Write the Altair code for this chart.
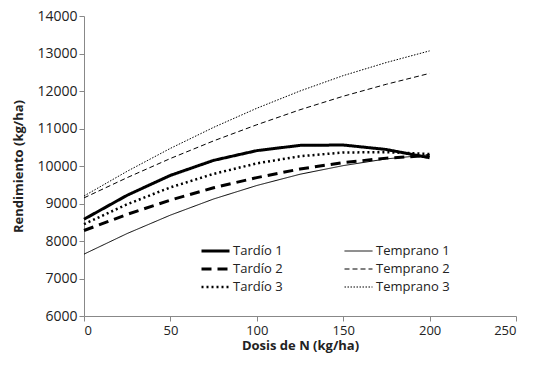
import altair as alt
import pandas as pd

dosis = [0, 25, 50, 75, 100, 125, 150, 175, 200]
series = ["Tardío 1", "Tardío 2", "Tardío 3", "Temprano 1", "Temprano 2", "Temprano 3"]
tardio1 = [8580, 9220, 9750, 10150, 10410, 10550, 10560, 10440, 10220]
tardio2 = [8280, 8710, 9090, 9420, 9690, 9920, 10090, 10210, 10280]
tardio3 = [8450, 8980, 9430, 9790, 10070, 10260, 10360, 10370, 10320]
temprano1 = [7650, 8200, 8690, 9120, 9480, 9780, 10010, 10190, 10300]
temprano2 = [9150, 9690, 10200, 10670, 11100, 11500, 11860, 12180, 12470]
temprano3 = [9200, 9860, 10470, 11030, 11540, 12000, 12410, 12760, 13070]

values = {
    "Tardío 1": tardio1, "Tardío 2": tardio2, "Tardío 3": tardio3,
    "Temprano 1": temprano1, "Temprano 2": temprano2, "Temprano 3": temprano3,
}
rows = []
for s in series:
    for x, y in zip(dosis, values[s]):
        rows.append({"serie": s, "dosis": x, "rend": y})
df = pd.DataFrame(rows)

dashes = {
    "Tardío 1": [1, 0], "Temprano 1": [1, 0],
    "Tardío 2": [10, 6], "Temprano 2": [5, 3],
    "Tardío 3": [2, 3], "Temprano 3": [1.5, 1.5],
}
widths = {"Tardío 1": 3, "Temprano 1": 1, "Tardío 2": 3,
          "Temprano 2": 1, "Tardío 3": 2.5, "Temprano 3": 1}

FONT = "Open Sans"

chart = alt.Chart(df).mark_line().encode(
    x=alt.X("dosis:Q", title="Dosis de N (kg/ha)",
            scale=alt.Scale(domain=[0, 250], nice=False),
            axis=alt.Axis(values=[0, 50, 100, 150, 200, 250], format="d")),
    y=alt.Y("rend:Q", title="Rendimiento (kg/ha)",
            scale=alt.Scale(domain=[6000, 14000], nice=False),
            axis=alt.Axis(values=list(range(6000, 14001, 1000)), format="d")),
    color=alt.Color("serie:N", sort=series,
                    scale=alt.Scale(domain=series, range=["black"] * 6),
                    legend=alt.Legend(title=None, orient="none", legendX=116, legendY=227,
                                      columns=2, columnPadding=60, rowPadding=2,
                                      clipHeight=16,
                                      symbolType="stroke", symbolSize=784,
                                      labelFontSize=13, labelFont=FONT, labelColor="#222",
                                      labelOffset=2)),
    strokeDash=alt.StrokeDash("serie:N", sort=series,
                              scale=alt.Scale(type="ordinal", domain=series,
                                              range=[dashes[s] for s in series])),
    strokeWidth=alt.StrokeWidth("serie:N", sort=series,
                                scale=alt.Scale(type="ordinal", domain=series,
                                                range=[widths[s] for s in series])),
).properties(
    width=432, height=300,
    autosize=alt.AutoSizeParams(type="none"),
    padding={"left": 76, "top": 8, "right": 16, "bottom": 42},
).configure_view(stroke=None).configure_axis(
    grid=False, domainColor="#888", tickColor="#888", labelColor="#222",
    labelFont=FONT, titleFont=FONT, labelFontSize=14, titleFontSize=13,
    titleFontWeight="bold", titleColor="#222", tickSize=5,
).configure_axisX(labelFontSize=13, labelPadding=3, titlePadding=2).configure_axisY(titlePadding=11)

chart.save("out.html", embed_options={"renderer": "svg", "actions": False})
